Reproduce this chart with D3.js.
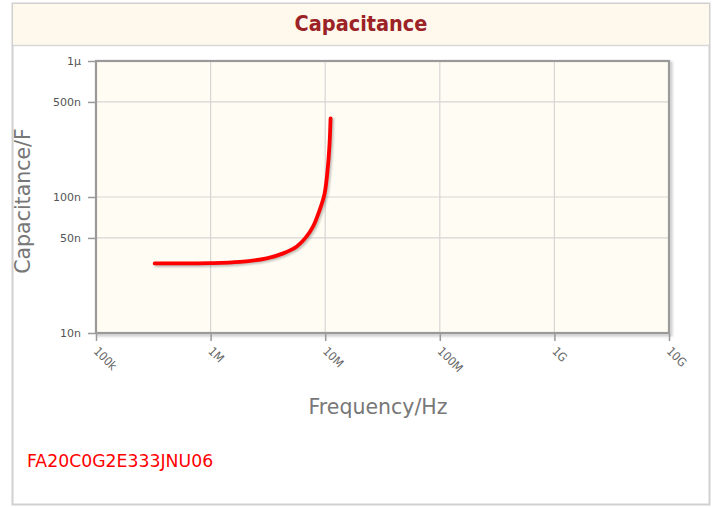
<!DOCTYPE html>
<html><head><meta charset="utf-8">
<script src="https://cdn.jsdelivr.net/npm/d3@7"></script>
<style>body{margin:0;background:#fff;}svg{display:block;}</style>
</head><body>
<script>
const title = "Capacitance";
const partNumber = "FA20C0G2E333JNU06";
const xTickValues = [1e5, 1e6, 1e7, 1e8, 1e9, 1e10];
const xTickLabels = ["100k", "1M", "10M", "100M", "1G", "10G"];
const yTickValues = [1e-8, 5e-8, 1e-7, 5e-7, 1e-6];
const yTickLabels = ["10n", "50n", "100n", "500n", "1\u03bc"];
const freq = [3.25e5, 1.0e6, 1.81e6, 3.08e6, 4.30e6, 5.61e6, 6.86e6, 7.82e6, 8.94e6, 9.88e6, 10.55e6, 10.92e6, 11.14e6];
const cap = [32.5e-9, 32.6e-9, 33.3e-9, 35.4e-9, 38.5e-9, 43.1e-9, 51.1e-9, 60.5e-9, 80.2e-9, 106e-9, 167e-9, 248e-9, 379e-9];

const W = 715, H = 507;
const svg = d3.select("body").append("svg").attr("width", W).attr("height", H);
const defs = svg.append("defs");
const f = defs.append("filter").attr("id", "blur").attr("x", "-10%").attr("y", "-10%").attr("width", "120%").attr("height", "120%");
f.append("feGaussianBlur").attr("stdDeviation", 1.2);

// outer box
svg.append("rect").attr("x", 12.5).attr("y", 3.5).attr("width", 697).attr("height", 501)
  .attr("fill", "#fff").attr("stroke", "#d0d0d0").attr("stroke-width", 2);
svg.append("rect").attr("x", 13).attr("y", 4).attr("width", 696).attr("height", 41)
  .attr("fill", "#fef9ec");
svg.append("line").attr("x1", 13).attr("x2", 709).attr("y1", 45.5).attr("y2", 45.5)
  .attr("stroke", "#d8d8d8").attr("stroke-width", 1.5);
svg.append("text").attr("x", 361).attr("y", 31).attr("text-anchor", "middle")
  .attr("font-family", "DejaVu Sans Condensed, DejaVu Sans").attr("font-weight", "bold")
  .attr("font-size", 21.5).attr("fill", "#9b2226").text(title);

const x = d3.scaleLog().domain([1e5, 1e10]).range([96, 669]);
const y = d3.scaleLog().domain([1e-8, 1e-6]).range([333, 61]);

const x0 = x(1e5), x1 = x(1e10), y0 = y(1e-6), y1 = y(1e-8);
// frame shadow
svg.append("rect").attr("x", x0 + 2).attr("y", y0 + 2).attr("width", x1 - x0).attr("height", y1 - y0)
  .attr("fill", "none").attr("stroke", "#ccc").attr("stroke-width", 3).attr("filter", "url(#blur)");
svg.append("rect").attr("x", x0).attr("y", y0).attr("width", x1 - x0).attr("height", y1 - y0)
  .attr("fill", "#fffcf3");

// grid
svg.append("g").selectAll("line").data(xTickValues.slice(1, -1)).join("line")
  .attr("x1", d => x(d)).attr("x2", d => x(d)).attr("y1", y0).attr("y2", y1)
  .attr("stroke", "#d6d6d6").attr("stroke-width", 1.2);
svg.append("g").selectAll("line").data(yTickValues.slice(1, -1)).join("line")
  .attr("x1", x0).attr("x2", x1).attr("y1", d => y(d)).attr("y2", d => y(d))
  .attr("stroke", "#d6d6d6").attr("stroke-width", 1.2);

svg.append("rect").attr("x", x0).attr("y", y0).attr("width", x1 - x0).attr("height", y1 - y0)
  .attr("fill", "none").attr("stroke", "#9a9a9a").attr("stroke-width", 2.2);

// axes
const yAxis = d3.axisLeft(y).tickValues(yTickValues).tickSize(7).tickPadding(7)
  .tickFormat((d, i) => yTickLabels[i]);
const gy = svg.append("g").attr("transform", `translate(${x0 - 1},0)`).call(yAxis);
gy.select(".domain").remove();
gy.selectAll(".tick line").attr("stroke", "#999").attr("stroke-width", 1.5);
gy.selectAll(".tick text").attr("fill", "#555").attr("font-size", 11)
  .attr("font-family", "DejaVu Sans");

const xAxis = d3.axisBottom(x).tickValues(xTickValues).tickSize(7).tickFormat("");
const gx = svg.append("g").attr("transform", `translate(0,${y1 + 1})`).call(xAxis);
gx.select(".domain").remove();
gx.selectAll(".tick line").attr("stroke", "#999").attr("stroke-width", 1.5);
svg.append("g").selectAll("text").data(xTickValues).join("text")
  .attr("transform", d => `translate(${x(d) - 3},${y1 + 19}) rotate(45)`)
  .attr("font-size", 12).attr("font-family", "DejaVu Sans Condensed, DejaVu Sans").attr("fill", "#666")
  .text((d, i) => xTickLabels[i]);

// titles
svg.append("text").attr("x", 378).attr("y", 414).attr("text-anchor", "middle")
  .attr("font-family", "DejaVu Sans").attr("font-size", 20.5).attr("fill", "#777").text("Frequency/Hz");
svg.append("text").attr("transform", `translate(30,201) rotate(-90)`).attr("text-anchor", "middle")
  .attr("font-family", "DejaVu Sans").attr("font-size", 20.5).attr("fill", "#777").text("Capacitance/F");

// curve
const pts = freq.map((fv, i) => [fv, cap[i]]);
const line = d3.line().x(d => x(d[0])).y(d => y(d[1])).curve(d3.curveCatmullRom.alpha(0.5));
svg.append("path").datum(pts).attr("d", line).attr("fill", "none")
  .attr("stroke", "#000").attr("stroke-opacity", 0.25).attr("stroke-width", 4)
  .attr("transform", "translate(1.5,1.5)").attr("filter", "url(#blur)").attr("stroke-linecap", "round");
svg.append("path").datum(pts).attr("d", line).attr("fill", "none")
  .attr("stroke", "#ff0000").attr("stroke-width", 3.8).attr("stroke-linecap", "round");

svg.append("text").attr("x", 27).attr("y", 467).attr("font-family", "DejaVu Sans")
  .attr("font-size", 17.3).attr("fill", "#ff0000").text(partNumber);
</script>
</body></html>
